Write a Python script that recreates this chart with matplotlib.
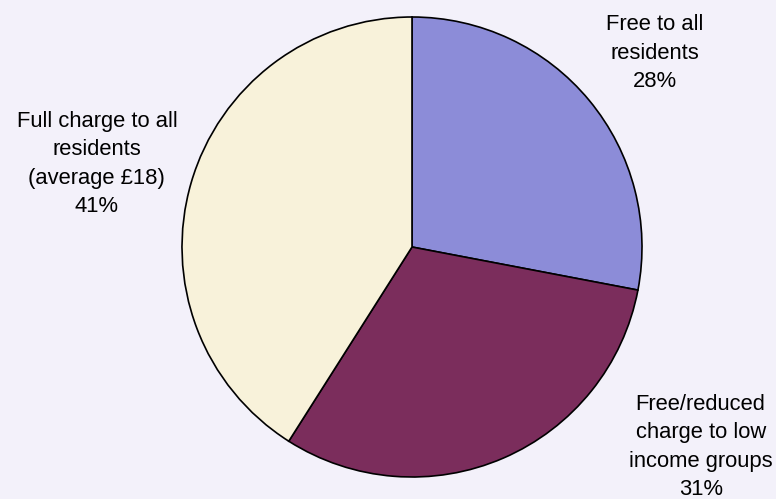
import matplotlib
matplotlib.use("Agg")
import matplotlib.pyplot as plt

labels = ["Free to all\nresidents", "Free/reduced\ncharge to low\nincome groups", "Full charge to all\nresidents\n(average £18)"]
sizes = [28, 31, 41]
colors = ["#8c8cd8", "#7b2d5c", "#f8f2da"]

plt.rcParams['font.family'] = ['Liberation Sans', 'DejaVu Sans']

fig = plt.figure(figsize=(7.76, 4.99), dpi=100)
fig.patch.set_facecolor("#f3f1fa")
ax = fig.add_axes([182 / 776, 22 / 499, 460 / 776, 460 / 499])
ax.set_facecolor("none")

wedges, _ = ax.pie(sizes, colors=colors, startangle=90, counterclock=False,
                   wedgeprops=dict(edgecolor="black", linewidth=1.2))
ax.set_xlim(-1, 1)
ax.set_ylim(-1, 1)
ax.set_aspect("equal")

# label positions in data coords (radius 1)
label_pos = [(1.057, 0.843), (1.255, -0.870), (-1.37, 0.361)]
for lab, s, (x, y) in zip(labels, sizes, label_pos):
    ax.text(x, y, lab + "\n" + str(s) + "%", ha="center", va="center",
            fontsize=15.8, linespacing=1.45, clip_on=False)

plt.savefig("out.png", dpi=100, facecolor=fig.get_facecolor())
